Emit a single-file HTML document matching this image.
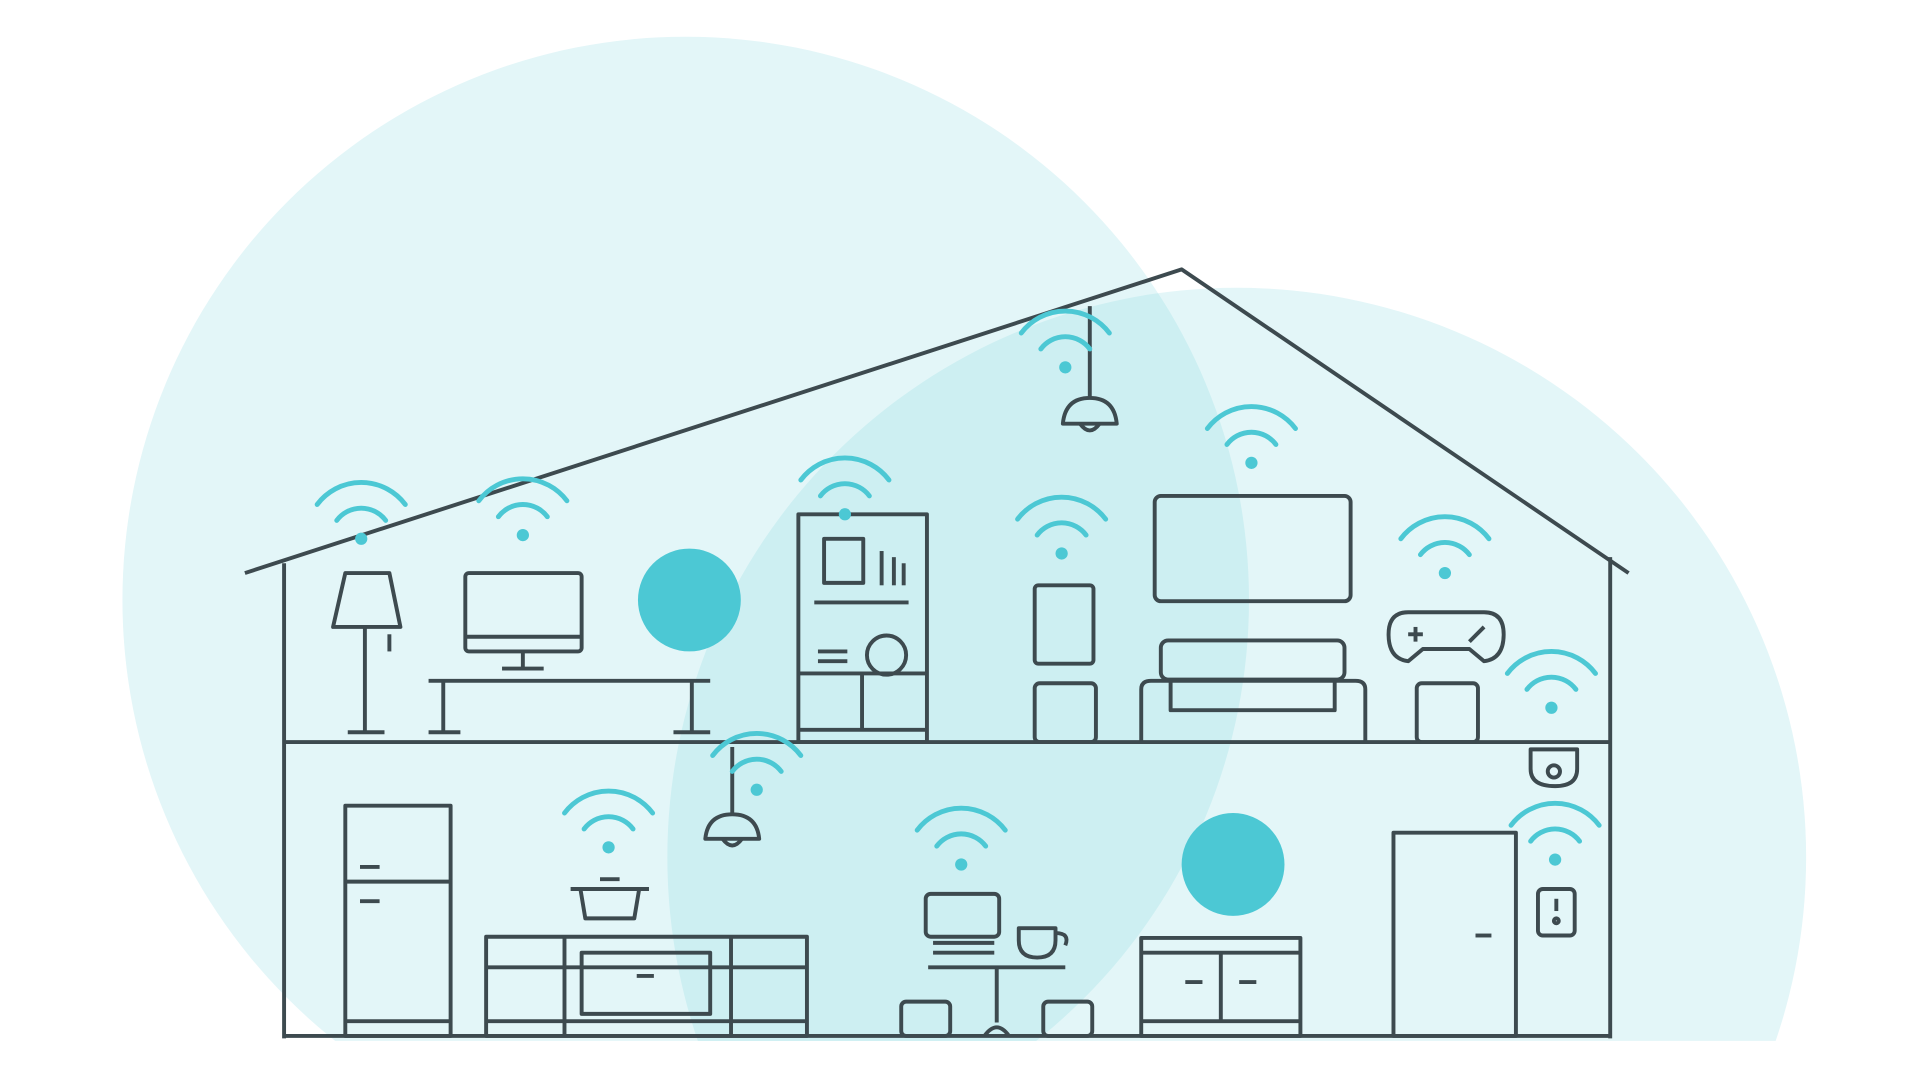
<!DOCTYPE html>
<html><head><style>html,body{margin:0;padding:0;background:#fff;width:1920px;height:1080px;overflow:hidden}svg{display:block;overflow:hidden}</style></head>
<body>
<svg width="1920" height="1080" viewBox="0 0 1568 882" preserveAspectRatio="none" xmlns="http://www.w3.org/2000/svg">
<defs>
<clipPath id="c"><rect x="0" y="0" width="1568" height="850"/></clipPath>
<clipPath id="c2"><circle cx="560" cy="490" r="460"/></clipPath>
<g id="w" fill="none" stroke="#4cc8d4" stroke-width="4" stroke-linecap="round">
<circle cx="0" cy="0" r="5" fill="#4cc8d4" stroke="none"/>
<path d="M-20,-15 A25,25 0 0 1 20,-15"/>
<path d="M-36,-28 A45,45 0 0 1 36,-28"/>
</g>
</defs>
<g clip-path="url(#c)">
<circle cx="560" cy="490" r="460" fill="#e3f6f8"/>
<circle cx="1010" cy="700" r="465" fill="#e3f6f8"/>
<circle cx="1010" cy="700" r="465" fill="#cdeff2" clip-path="url(#c2)"/>
</g>
<circle cx="563" cy="490" r="42" fill="#4cc8d4"/>
<circle cx="1007" cy="706" r="42" fill="#4cc8d4"/>
<g fill="none" stroke="#3d4a4f" stroke-width="3.2" stroke-linejoin="round">
<polyline points="200,468 965,220 1330,468"/>
<line x1="232" y1="460" x2="232" y2="848"/>
<line x1="1315" y1="455" x2="1315" y2="848"/>
<line x1="232" y1="606" x2="1315" y2="606"/>
<line x1="232" y1="846" x2="1315" y2="846"/>
<path d="M282,468 H318 L327,512 H272 Z"/><line x1="298" y1="512" x2="298" y2="598"/><line x1="284" y1="598" x2="314" y2="598"/><line x1="318" y1="518" x2="318" y2="532"/>
<rect x="380" y="468" width="95" height="64" rx="3"/><line x1="380" y1="520" x2="475" y2="520"/><line x1="427" y1="532" x2="427" y2="545"/><line x1="410" y1="546" x2="444" y2="546"/>
<line x1="350" y1="556" x2="580" y2="556"/><line x1="362" y1="556" x2="362" y2="598"/><line x1="565" y1="556" x2="565" y2="598"/><line x1="350" y1="598" x2="376" y2="598"/><line x1="550" y1="598" x2="580" y2="598"/>
<rect x="652" y="420" width="105" height="186"/><rect x="673" y="440" width="32" height="36"/><line x1="720" y1="450" x2="720" y2="478"/><line x1="730" y1="455" x2="730" y2="478"/><line x1="738" y1="460" x2="738" y2="478"/><line x1="665" y1="492" x2="742" y2="492"/>
<line x1="668" y1="532" x2="692" y2="532"/><line x1="668" y1="540" x2="692" y2="540"/><circle cx="724" cy="535" r="16"/><line x1="652" y1="550" x2="757" y2="550"/><line x1="704" y1="550" x2="704" y2="596"/><line x1="652" y1="596" x2="757" y2="596"/>
<rect x="845" y="478" width="48" height="64" rx="3"/><rect x="845" y="558" width="50" height="48" rx="4"/>
<rect x="943" y="405" width="160" height="86" rx="5"/>
<rect x="948" y="523" width="150" height="32" rx="6"/><path d="M932,606 V563 Q932,556 940,556 H1107 Q1115,556 1115,563 V606"/><path d="M956,556 V580 H1090 V556"/>
<path d="M1150,500 H1212 Q1228,500 1228,518 Q1228,538 1212,540 L1200,530 H1162 L1150,540 Q1134,538 1134,518 Q1134,500 1150,500 Z"/>
<line x1="1150" y1="518" x2="1162" y2="518"/><line x1="1156" y1="512" x2="1156" y2="524"/><line x1="1200" y1="524" x2="1212" y2="512"/>
<rect x="1157" y="558" width="50" height="48" rx="4"/>
<path d="M1250,612 H1288 V628 Q1288,642 1270,642 Q1250,642 1250,628 Z"/><circle cx="1269" cy="630" r="5"/>
<rect x="282" y="658" width="86" height="188"/><line x1="282" y1="720" x2="368" y2="720"/><line x1="294" y1="708" x2="310" y2="708"/><line x1="294" y1="736" x2="310" y2="736"/><line x1="282" y1="834" x2="368" y2="834"/>
<rect x="397" y="765" width="262" height="81"/><line x1="397" y1="790" x2="659" y2="790"/><line x1="461" y1="765" x2="461" y2="846"/><line x1="597" y1="765" x2="597" y2="846"/><rect x="475" y="778" width="105" height="50"/><line x1="520" y1="797" x2="534" y2="797"/><line x1="397" y1="834" x2="659" y2="834"/>
<path d="M466,726 H530 M474,726 L478,750 H518 L522,726"/><line x1="490" y1="718" x2="506" y2="718"/>
<line x1="598" y1="610" x2="598" y2="665"/><path d="M576,685 Q578,665 598,665 Q618,665 620,685 Z"/><path d="M590,685 Q598,696 606,685"/>
<line x1="890" y1="250" x2="890" y2="325"/><path d="M868,346 Q870,325 890,325 Q910,325 912,346 Z"/><path d="M882,346 Q890,357 898,346"/>
<rect x="756" y="730" width="60" height="35" rx="4"/><line x1="762" y1="770" x2="812" y2="770"/><line x1="762" y1="778" x2="812" y2="778"/>
<path d="M832,758 H862 V768 Q862,782 847,782 Q832,782 832,768 Z"/><path d="M862,762 Q874,762 870,772"/>
<line x1="758" y1="790" x2="870" y2="790"/><line x1="814" y1="790" x2="814" y2="835"/><path d="M804,846 Q814,832 824,846"/>
<rect x="736" y="818" width="40" height="28" rx="4"/><rect x="852" y="818" width="40" height="28" rx="4"/>
<rect x="932" y="766" width="130" height="80"/><line x1="932" y1="778" x2="1062" y2="778"/><line x1="997" y1="778" x2="997" y2="834"/><line x1="968" y1="802" x2="982" y2="802"/><line x1="1012" y1="802" x2="1026" y2="802"/><line x1="932" y1="834" x2="1062" y2="834"/>
<rect x="1138" y="680" width="100" height="166"/><line x1="1205" y1="764" x2="1218" y2="764"/>
<rect x="1256" y="726" width="30" height="38" rx="4"/><line x1="1271" y1="734" x2="1271" y2="744"/><circle cx="1271" cy="752" r="2"/>
</g>
<use href="#w" x="295" y="440"/>
<use href="#w" x="427" y="437"/>
<use href="#w" x="690" y="420"/>
<use href="#w" x="870" y="300"/>
<use href="#w" x="867" y="452"/>
<use href="#w" x="1022" y="378"/>
<use href="#w" x="1180" y="468"/>
<use href="#w" x="1267" y="578"/>
<use href="#w" x="618" y="645"/>
<use href="#w" x="497" y="692"/>
<use href="#w" x="785" y="706"/>
<use href="#w" x="1270" y="702"/>
</svg>
</body></html>
